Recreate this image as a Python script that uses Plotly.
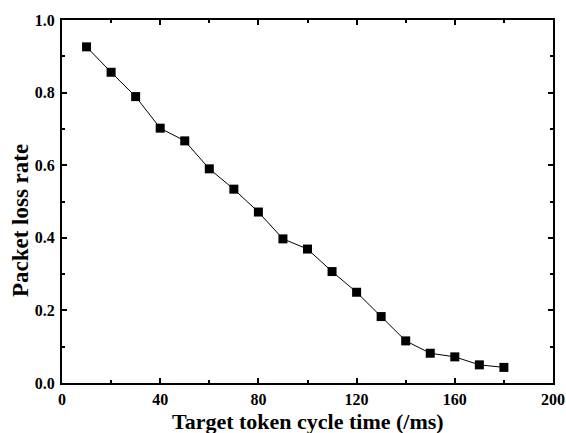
import plotly.graph_objects as go

x_ms = [10, 20, 30, 40, 50, 60, 70, 80, 90, 100, 110, 120, 130, 140, 150, 160, 170, 180]
loss_rate = [0.926, 0.856, 0.789, 0.702, 0.667, 0.590, 0.534, 0.471, 0.397, 0.369,
             0.307, 0.250, 0.183, 0.116, 0.082, 0.072, 0.050, 0.043]
x_ticks = [0, 40, 80, 120, 160, 200]
y_ticks = [0.0, 0.2, 0.4, 0.6, 0.8, 1.0]
x_title = "Target token cycle time (/ms)"
y_title = "Packet loss rate"

FAM = "Liberation Serif, Times New Roman, serif"

fig = go.Figure(go.Scatter(
    x=x_ms, y=loss_rate, mode="lines+markers",
    line=dict(color="black", width=1),
    marker=dict(symbol="square", size=9, color="black"),
))

axis_common = dict(
    showline=True, linecolor="black", linewidth=2, mirror="ticks",
    ticks="inside", tickwidth=2, ticklen=5, tickcolor="black",
    showgrid=False, zeroline=False, automargin=False,
    tickfont=dict(size=16, family=FAM, color="black", weight="bold"),
)

fig.update_xaxes(
    range=[0, 200], tickvals=x_ticks, ticktext=[str(v) for v in x_ticks],
    minor=dict(ticks="inside", dtick=20, ticklen=3, tickwidth=1.5, tickcolor="black"),
    ticklabelstandoff=1,
    **axis_common,
)
fig.update_yaxes(
    range=[0, 1.0], tickvals=y_ticks, ticktext=[f"{v:.1f}" for v in y_ticks],
    minor=dict(ticks="inside", dtick=0.1, ticklen=3, tickwidth=1.5, tickcolor="black"),
    ticklabelstandoff=2,
    **axis_common,
)

fig.add_annotation(
    text=x_title, xref="paper", yref="paper", x=0.5, y=-0.107,
    xanchor="center", yanchor="middle", showarrow=False,
    font=dict(size=22, family=FAM, color="black", weight="bold"),
)
fig.add_annotation(
    text=y_title, xref="paper", yref="paper", x=-0.0855, y=0.446,
    xanchor="center", yanchor="middle", showarrow=False, textangle=-90,
    font=dict(size=23, family=FAM, color="black", weight="bold"),
)

fig.update_layout(
    width=566, height=433,
    margin=dict(l=62, r=13, t=20, b=50),
    plot_bgcolor="white", paper_bgcolor="white",
    showlegend=False,
    font=dict(family=FAM, color="black", size=16),
)

fig.write_html(
    "out.html",
    config={"displayModeBar": False},
    post_script="document.body.style.margin='0';document.body.style.overflow='hidden';",
)
